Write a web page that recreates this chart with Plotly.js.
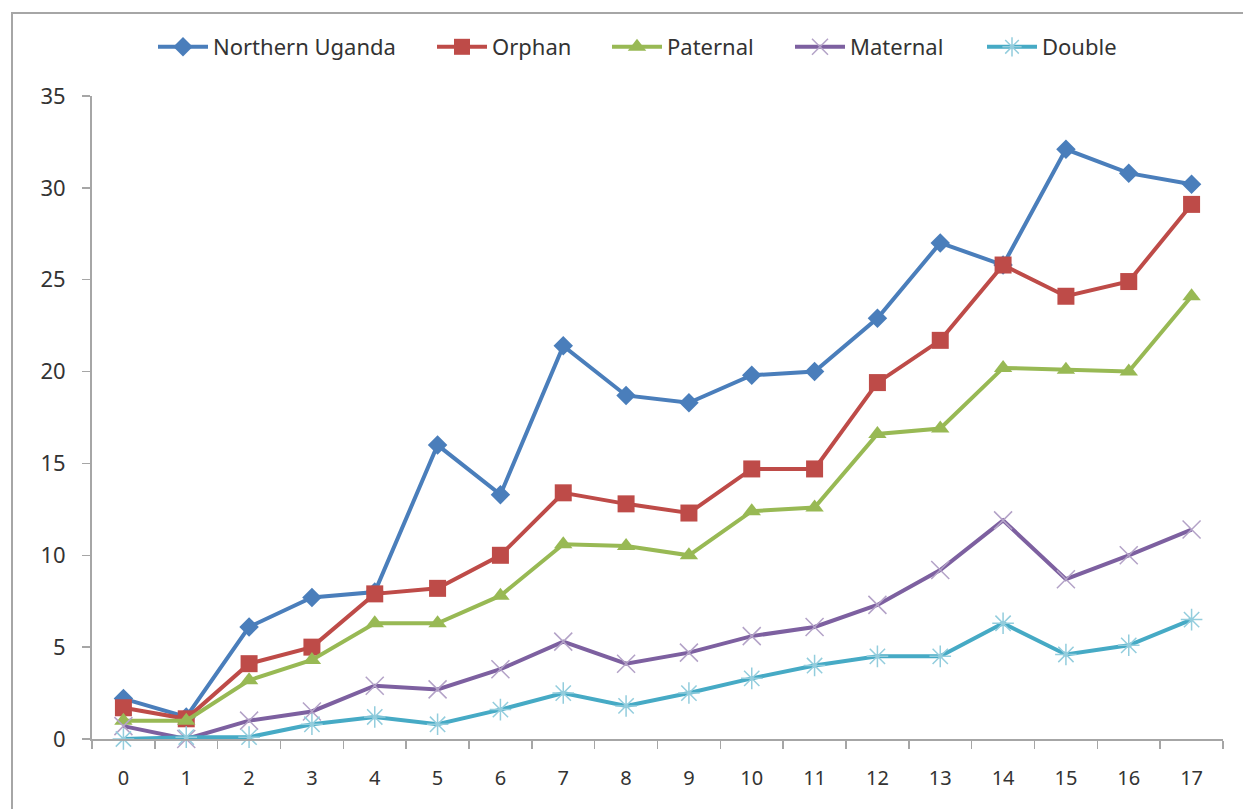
<!DOCTYPE html>
<html>
<head>
<meta charset="utf-8">
<script src="https://cdn.plot.ly/plotly-3.0.1.min.js"></script>
<style>
  html, body { margin: 0; padding: 0; background: #fff; overflow: hidden; }
  #chart { width: 1243px; height: 809px; }
  #frame { position: absolute; left: 11px; top: 12px; width: 1300px; height: 900px;
           border: 2px solid #a6a6a6; pointer-events: none; box-sizing: border-box; }
</style>
</head>
<body>
<div id="chart"></div>
<div id="frame"></div>
<script>
const ages = ["0","1","2","3","4","5","6","7","8","9","10","11","12","13","14","15","16","17"];
const seriesNames = ["Northern Uganda", "Orphan", "Paternal", "Maternal", "Double"];
const northernUganda = [2.2, 1.2, 6.1, 7.7, 8.0, 16.0, 13.3, 21.4, 18.7, 18.3, 19.8, 20.0, 22.9, 27.0, 25.8, 32.1, 30.8, 30.2];
const orphan = [1.7, 1.1, 4.1, 5.0, 7.9, 8.2, 10.0, 13.4, 12.8, 12.3, 14.7, 14.7, 19.4, 21.7, 25.8, 24.1, 24.9, 29.1];
const paternal = [1.0, 1.0, 3.2, 4.3, 6.3, 6.3, 7.8, 10.6, 10.5, 10.0, 12.4, 12.6, 16.6, 16.9, 20.2, 20.1, 20.0, 24.1];
const maternal = [0.7, 0.0, 1.0, 1.5, 2.9, 2.7, 3.8, 5.3, 4.1, 4.7, 5.6, 6.1, 7.3, 9.2, 11.9, 8.7, 10.0, 11.4];
const double_ = [0.0, 0.1, 0.1, 0.8, 1.2, 0.8, 1.6, 2.5, 1.8, 2.5, 3.3, 4.0, 4.5, 4.5, 6.3, 4.6, 5.1, 6.5];

const legendIds = ['legend', 'legend2', 'legend3', 'legend4', 'legend5'];
const legendLeft = [153, 432, 607, 790, 982];

function tr(i, y, color, symbol, size, mcolor, open) {
  const m = { symbol: symbol, size: size, color: mcolor };
  if (open) m.line = { color: mcolor, width: 1.5 };
  return { type: 'scatter', mode: 'lines+markers', name: seriesNames[i], x: ages, y: y,
           legend: legendIds[i],
           line: { color: color, width: 4 }, marker: m, cliponaxis: false };
}

const data = [
  tr(0, northernUganda, '#4A7EBB', 'diamond', 15, '#4A7EBB', false),
  tr(1, orphan, '#BE4B48', 'square', 17, '#BE4B48', false),
  tr(2, paternal, '#98B954', 'triangle-up', 16, '#98B954', false),
  tr(3, maternal, '#7D60A0', 'x-thin-open', 18, '#B3A2C7', true),
  tr(4, double_, '#46AAC5', 'asterisk-open', 18, '#93CDDD', true)
];

const layout = {
  width: 1243, height: 809,
  margin: { l: 92, r: 20, t: 96, b: 70 },
  paper_bgcolor: '#fff', plot_bgcolor: '#fff',
  font: { family: 'Noto Sans, sans-serif', size: 16, color: '#404040' },
  showlegend: true,
  xaxis: { type: 'category', range: [-0.5, 17.5], tickson: 'boundaries', ticks: 'outside', ticklen: 8,
           tickcolor: '#A6A6A6', tickwidth: 1.5, showline: true, linecolor: '#A6A6A6', linewidth: 2,
           showgrid: false, zeroline: false, ticklabelstandoff: 20,
           tickfont: { size: 20, color: '#333333' } },
  yaxis: { range: [0, 35], dtick: 5, ticks: 'outside', ticklen: 8, tickcolor: '#A6A6A6', tickwidth: 1.5,
           showline: true, linecolor: '#A6A6A6', linewidth: 2, showgrid: false, zeroline: false,
           ticklabelstandoff: 12, tickfont: { size: 22, color: '#333333' } }
};
legendIds.forEach((id, i) => {
  layout[id] = { orientation: 'h', xref: 'container', yref: 'container',
                 x: legendLeft[i] / 1243, xanchor: 'left', y: 1 - 47 / 809, yanchor: 'middle',
                 font: { size: 22, color: '#333333' }, itemwidth: 50, bgcolor: 'rgba(0,0,0,0)' };
});

Plotly.newPlot('chart', data, layout, { displayModeBar: false, staticPlot: true });
</script>
</body>
</html>
